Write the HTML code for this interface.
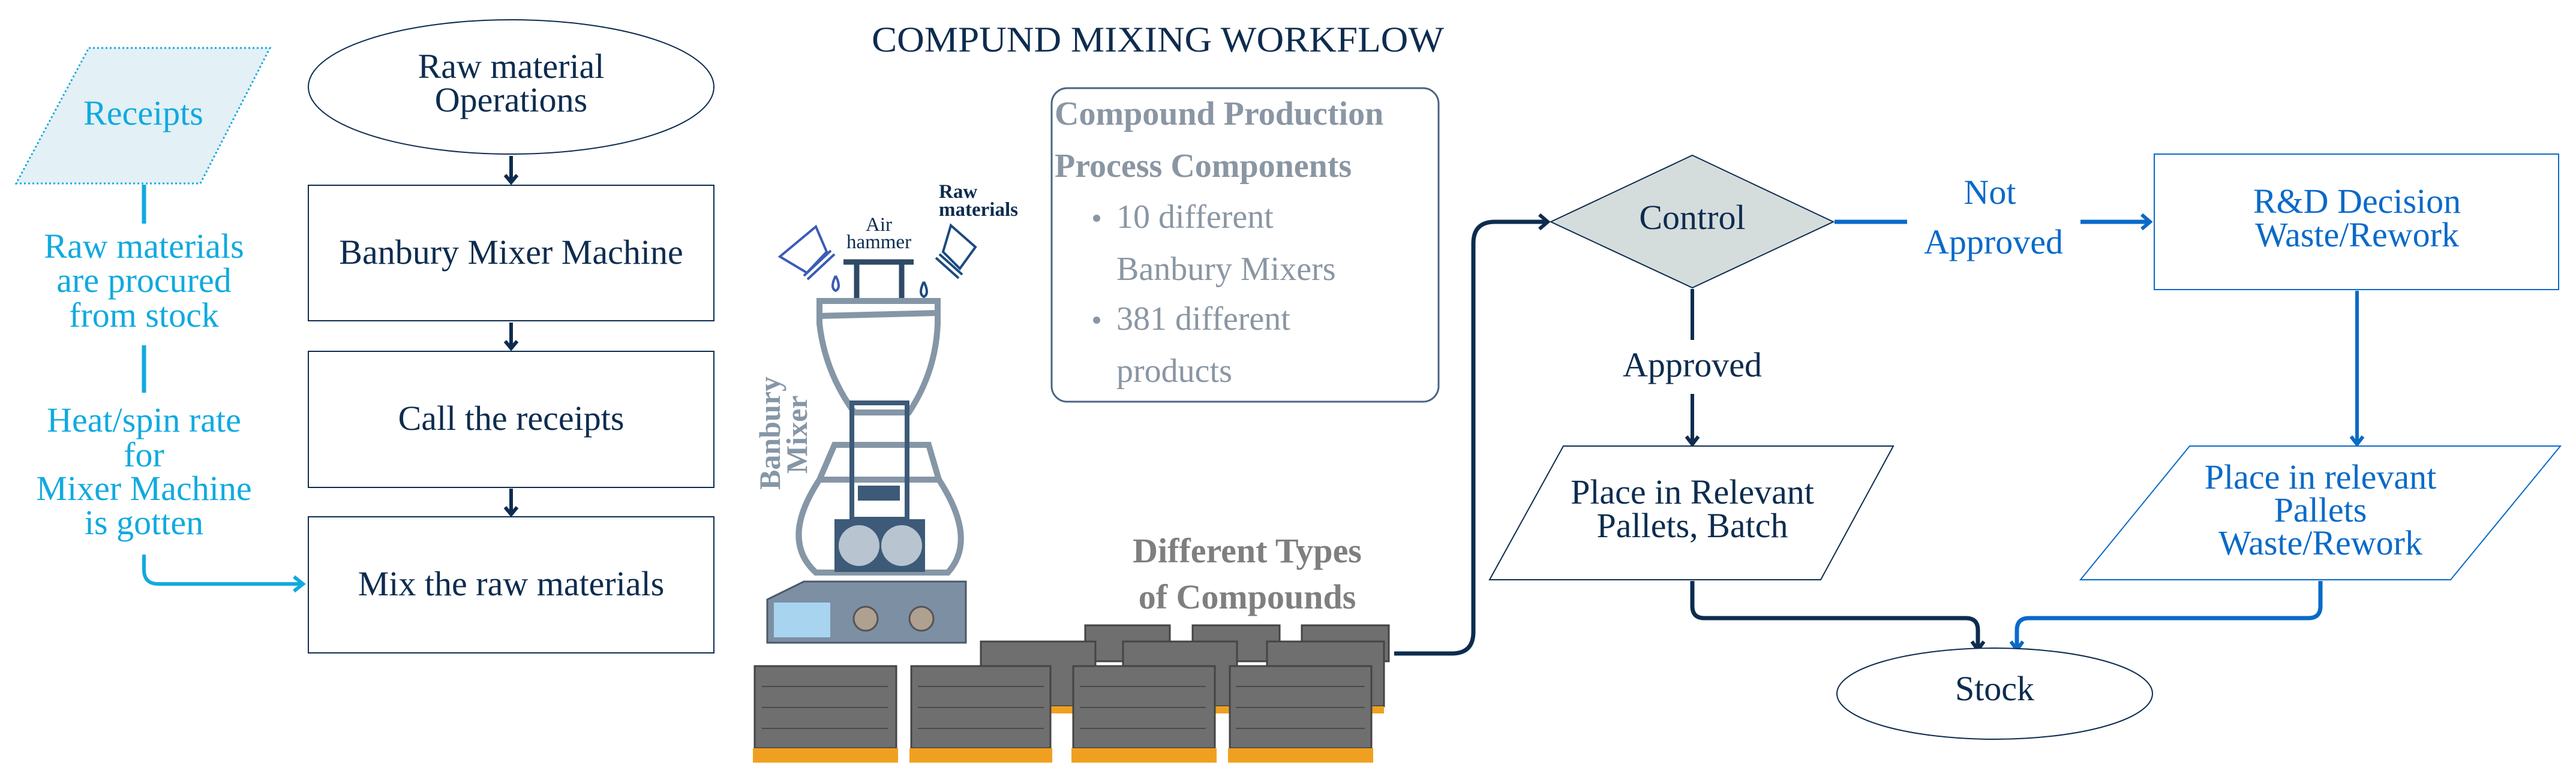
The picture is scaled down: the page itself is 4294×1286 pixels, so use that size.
<!DOCTYPE html>
<html><head><meta charset="utf-8">
<style>
html,body{margin:0;padding:0;background:#fff;}
svg{display:block;}
svg text{font-family:"Liberation Serif","DejaVu Serif",serif;}
</style></head>
<body>
<svg width="4294" height="1286" viewBox="0 0 4294 1286" xmlns="http://www.w3.org/2000/svg" font-family="Liberation Serif, DejaVu Serif, serif">

<!-- Title -->
<text x="1930" y="86" font-size="60" fill="#0d2c4f" text-anchor="middle" textLength="954" lengthAdjust="spacingAndGlyphs">COMPUND MIXING WORKFLOW</text>

<!-- Receipts parallelogram -->
<polygon points="148,80 450,80 334,306 27,306" fill="#e3f0f5" stroke="#10aadf" stroke-width="3" stroke-dasharray="3,4"/>
<text x="239" y="208" font-size="58" fill="#10aadf" text-anchor="middle">Receipts</text>
<line x1="240" y1="308" x2="240" y2="373" stroke="#10aadf" stroke-width="7"/>
<g font-size="58" fill="#10aadf" text-anchor="middle">
<text x="240" y="430">Raw materials</text>
<text x="240" y="487">are procured</text>
<text x="240" y="545">from stock</text>
<text x="240" y="720">Heat/spin rate</text>
<text x="240" y="778">for</text>
<text x="240" y="834">Mixer Machine</text>
<text x="240" y="891">is gotten</text>
</g>
<line x1="240" y1="576" x2="240" y2="655" stroke="#10aadf" stroke-width="7"/>
<path d="M240,925 L240,950 Q240,974 264,974 L500,974" fill="none" stroke="#10aadf" stroke-width="6"/>
<path d="M490,962 L505,974 L490,986" fill="none" stroke="#10aadf" stroke-width="6"/>

<!-- Left column flow -->
<ellipse cx="852" cy="145" rx="338" ry="112" fill="#fff" stroke="#0d2c4f" stroke-width="2"/>
<text x="852" y="130" font-size="58" fill="#0d2c4f" text-anchor="middle">Raw material</text>
<text x="852" y="186" font-size="58" fill="#0d2c4f" text-anchor="middle">Operations</text>
<rect x="514" y="309" width="676" height="226" fill="#fff" stroke="#0d2c4f" stroke-width="2"/>
<text x="852" y="440" font-size="58" fill="#0d2c4f" text-anchor="middle">Banbury Mixer Machine</text>
<rect x="514" y="586" width="676" height="227" fill="#fff" stroke="#0d2c4f" stroke-width="2"/>
<text x="852" y="717" font-size="58" fill="#0d2c4f" text-anchor="middle">Call the receipts</text>
<rect x="514" y="862" width="676" height="227" fill="#fff" stroke="#0d2c4f" stroke-width="2"/>
<text x="852" y="993" font-size="58" fill="#0d2c4f" text-anchor="middle">Mix the raw materials</text>
<g stroke="#0d2c4f" stroke-width="6" fill="none">
<line x1="852" y1="260" x2="852" y2="303"/><path d="M842,292 L852,304 L862,292"/>
<line x1="852" y1="538" x2="852" y2="580"/><path d="M842,569 L852,581 L862,569"/>
<line x1="852" y1="815" x2="852" y2="857"/><path d="M842,846 L852,858 L862,846"/>
</g>

<!-- Components box -->
<rect x="1753" y="147" width="645" height="523" rx="26" fill="#fff" stroke="#4a6582" stroke-width="3"/>
<g font-size="56" fill="#8a96a3">
<text x="1758" y="208" font-weight="bold">Compound Production</text>
<text x="1758" y="295" font-weight="bold">Process Components</text>
<circle cx="1828" cy="364" r="6" fill="#8a96a3"/>
<text x="1861" y="380">10 different</text>
<text x="1861" y="467">Banbury Mixers</text>
<circle cx="1828" cy="534" r="6" fill="#8a96a3"/>
<text x="1861" y="550">381 different</text>
<text x="1861" y="637">products</text>
</g>

<!-- Mixer illustration -->
<text transform="translate(1300,817) rotate(-90)" font-size="50" font-weight="bold" fill="#8596a6">Banbury</text>
<text transform="translate(1345,790) rotate(-90)" font-size="50" font-weight="bold" fill="#8596a6">Mixer</text>
<text x="1465" y="385" font-size="33" fill="#0d2c4f" text-anchor="middle">Air</text>
<text x="1465" y="414" font-size="33" fill="#0d2c4f" text-anchor="middle">hammer</text>
<text x="1565" y="330" font-size="33" font-weight="bold" fill="#0d2c4f">Raw</text>
<text x="1565" y="360" font-size="33" font-weight="bold" fill="#0d2c4f">materials</text>
<g fill="none" stroke="#3b5bb5" stroke-width="4">
<polygon points="1300,428 1360,378 1378,420 1345,455"/>
<line x1="1340" y1="460" x2="1385" y2="418"/><line x1="1346" y1="466" x2="1391" y2="424"/>
<path d="M1393,460 q-10,20 0,25 q10,-5 0,-25"/>
</g>
<g fill="none" stroke="#1b4a80" stroke-width="4">
<polygon points="1626,412 1585,376 1572,420 1600,448"/>
<line x1="1566" y1="424" x2="1604" y2="458"/><line x1="1560" y1="430" x2="1598" y2="464"/>
<path d="M1540,470 q-10,20 0,25 q10,-5 0,-25"/>
</g>
<g stroke="#2f4a66" stroke-width="9" fill="none">
<line x1="1406" y1="437" x2="1523" y2="437"/>
<line x1="1428" y1="437" x2="1428" y2="500"/><line x1="1503" y1="437" x2="1503" y2="500"/>
</g>
<g fill="none" stroke="#8596a6" stroke-width="10">
<path d="M1366,502 L1563,502 L1563,540 Q1560,620 1515,688 L1424,688 Q1375,620 1366,540 Z"/>
<line x1="1366" y1="527" x2="1563" y2="522"/>
<path d="M1391,742 L1548,742 L1565,800 L1366,800 Z"/>
<path d="M1366,800 Q1300,900 1360,955 L1580,955 Q1630,900 1565,800"/>
</g>
<rect x="1420" y="672" width="92" height="194" fill="none" stroke="#3d5a78" stroke-width="8"/>
<rect x="1430" y="810" width="70" height="25" fill="#3d5a78"/>
<rect x="1391" y="866" width="151" height="88" fill="#3d5a78"/>
<circle cx="1432" cy="910" r="34" fill="#b8c4d0"/><circle cx="1503" cy="910" r="34" fill="#b8c4d0"/>
<polygon points="1279,1000 1340,970 1610,970 1610,1072 1279,1072" fill="#7d8fa3" stroke="#4a5a6a" stroke-width="3"/>
<rect x="1290" y="1005" width="94" height="58" fill="#a8d4f0"/>
<circle cx="1443" cy="1032" r="20" fill="#b0a090" stroke="#555" stroke-width="3"/>
<circle cx="1536" cy="1032" r="20" fill="#b0a090" stroke="#555" stroke-width="3"/>

<!-- Pallets -->
<g fill="#6f6f6f" stroke="#444" stroke-width="3">
<rect x="1809" y="1043" width="141" height="60"/><rect x="1988" y="1043" width="145" height="60"/><rect x="2170" y="1043" width="145" height="60"/>
<rect x="1635" y="1070" width="191" height="108"/><rect x="1872" y="1070" width="190" height="108"/><rect x="2112" y="1070" width="195" height="108"/>
</g>
<g fill="#f0a020">
<rect x="1635" y="1178" width="191" height="12"/><rect x="1872" y="1178" width="190" height="12"/><rect x="2112" y="1178" width="195" height="12"/>
</g>
<g fill="#6f6f6f" stroke="#444" stroke-width="3">
<rect x="1258" y="1111" width="236" height="137"/><rect x="1519" y="1111" width="232" height="137"/>
<rect x="1789" y="1111" width="236" height="137"/><rect x="2050" y="1111" width="236" height="137"/>
</g>
<g stroke="#4a4a4a" stroke-width="2">
<line x1="1270" y1="1145" x2="1480" y2="1145"/><line x1="1270" y1="1180" x2="1480" y2="1180"/><line x1="1270" y1="1215" x2="1480" y2="1215"/>
<line x1="1530" y1="1145" x2="1740" y2="1145"/><line x1="1530" y1="1180" x2="1740" y2="1180"/><line x1="1530" y1="1215" x2="1740" y2="1215"/>
<line x1="1800" y1="1145" x2="2010" y2="1145"/><line x1="1800" y1="1180" x2="2010" y2="1180"/><line x1="1800" y1="1215" x2="2010" y2="1215"/>
<line x1="2060" y1="1145" x2="2275" y2="1145"/><line x1="2060" y1="1180" x2="2275" y2="1180"/><line x1="2060" y1="1215" x2="2275" y2="1215"/>
</g>
<g fill="#f0a020">
<rect x="1255" y="1248" width="242" height="24"/><rect x="1516" y="1248" width="238" height="24"/>
<rect x="1786" y="1248" width="242" height="24"/><rect x="2047" y="1248" width="242" height="24"/>
</g>
<text x="2079" y="938" font-size="58" font-weight="bold" fill="#7f7f7f" text-anchor="middle">Different Types</text>
<text x="2079" y="1015" font-size="58" font-weight="bold" fill="#7f7f7f" text-anchor="middle">of Compounds</text>

<!-- connector pallets -> control -->
<path d="M2324,1090 L2420,1090 Q2456,1090 2456,1054 L2456,406 Q2456,370 2492,370 L2578,370" fill="none" stroke="#0d2c4f" stroke-width="7"/>
<path d="M2566,358 L2580,370 L2566,382" fill="none" stroke="#0d2c4f" stroke-width="6"/>

<!-- Control diamond -->
<polygon points="2821,259 3056,370 2821,480 2585,370" fill="#d5dcdc" stroke="#0d2c4f" stroke-width="2"/>
<text x="2821" y="382" font-size="58" fill="#0d2c4f" text-anchor="middle">Control</text>

<!-- Not approved -->
<line x1="3058" y1="370" x2="3179" y2="370" stroke="#0a6ac8" stroke-width="7"/>
<line x1="3468" y1="370" x2="3580" y2="370" stroke="#0a6ac8" stroke-width="7"/>
<path d="M3570,358 L3584,370 L3570,382" fill="none" stroke="#0a6ac8" stroke-width="6"/>
<text x="3317" y="340" font-size="58" fill="#0a6ac8" text-anchor="middle">Not</text>
<text x="3323" y="423" font-size="58" fill="#0a6ac8" text-anchor="middle">Approved</text>

<!-- R&D box -->
<rect x="3591" y="257" width="674" height="226" fill="#fff" stroke="#0a6ac8" stroke-width="2"/>
<text x="3929" y="355" font-size="58" fill="#0a6ac8" text-anchor="middle">R&amp;D Decision</text>
<text x="3929" y="411" font-size="58" fill="#0a6ac8" text-anchor="middle">Waste/Rework</text>
<line x1="3929" y1="485" x2="3929" y2="738" stroke="#0a6ac8" stroke-width="6"/>
<path d="M3919,728 L3929,741 L3939,728" fill="none" stroke="#0a6ac8" stroke-width="6"/>

<!-- Right parallelogram -->
<polygon points="3650,744 4268,744 4085,967 3468,967" fill="#fff" stroke="#0a6ac8" stroke-width="2"/>
<text x="3868" y="815" font-size="58" fill="#0a6ac8" text-anchor="middle">Place in relevant</text>
<text x="3868" y="870" font-size="58" fill="#0a6ac8" text-anchor="middle">Pallets</text>
<text x="3868" y="925" font-size="58" fill="#0a6ac8" text-anchor="middle">Waste/Rework</text>

<!-- Approved -->
<line x1="2821" y1="482" x2="2821" y2="567" stroke="#0d2c4f" stroke-width="6"/>
<text x="2821" y="628" font-size="58" fill="#0d2c4f" text-anchor="middle">Approved</text>
<line x1="2821" y1="657" x2="2821" y2="738" stroke="#0d2c4f" stroke-width="6"/>
<path d="M2811,728 L2821,741 L2831,728" fill="none" stroke="#0d2c4f" stroke-width="6"/>

<!-- Left parallelogram -->
<polygon points="2606,744 3156,744 3035,967 2483,967" fill="#fff" stroke="#0d2c4f" stroke-width="2"/>
<text x="2821" y="840" font-size="58" fill="#0d2c4f" text-anchor="middle">Place in Relevant</text>
<text x="2821" y="896" font-size="58" fill="#0d2c4f" text-anchor="middle">Pallets, Batch</text>

<!-- to stock -->
<path d="M2821,969 L2821,1011 Q2821,1031 2841,1031 L3277,1031 Q3297,1031 3297,1051 L3297,1082" fill="none" stroke="#0d2c4f" stroke-width="7"/>
<path d="M3287,1070 L3297,1084 L3307,1070" fill="none" stroke="#0d2c4f" stroke-width="6"/>
<path d="M3868,969 L3868,1011 Q3868,1031 3848,1031 L3382,1031 Q3362,1031 3362,1051 L3362,1082" fill="none" stroke="#0a6ac8" stroke-width="7"/>
<path d="M3352,1070 L3362,1084 L3372,1070" fill="none" stroke="#0a6ac8" stroke-width="6"/>

<ellipse cx="3325" cy="1157" rx="263" ry="76" fill="#fff" stroke="#0d2c4f" stroke-width="2"/>
<text x="3325" y="1168" font-size="58" fill="#0d2c4f" text-anchor="middle">Stock</text>
</svg>
</body></html>
